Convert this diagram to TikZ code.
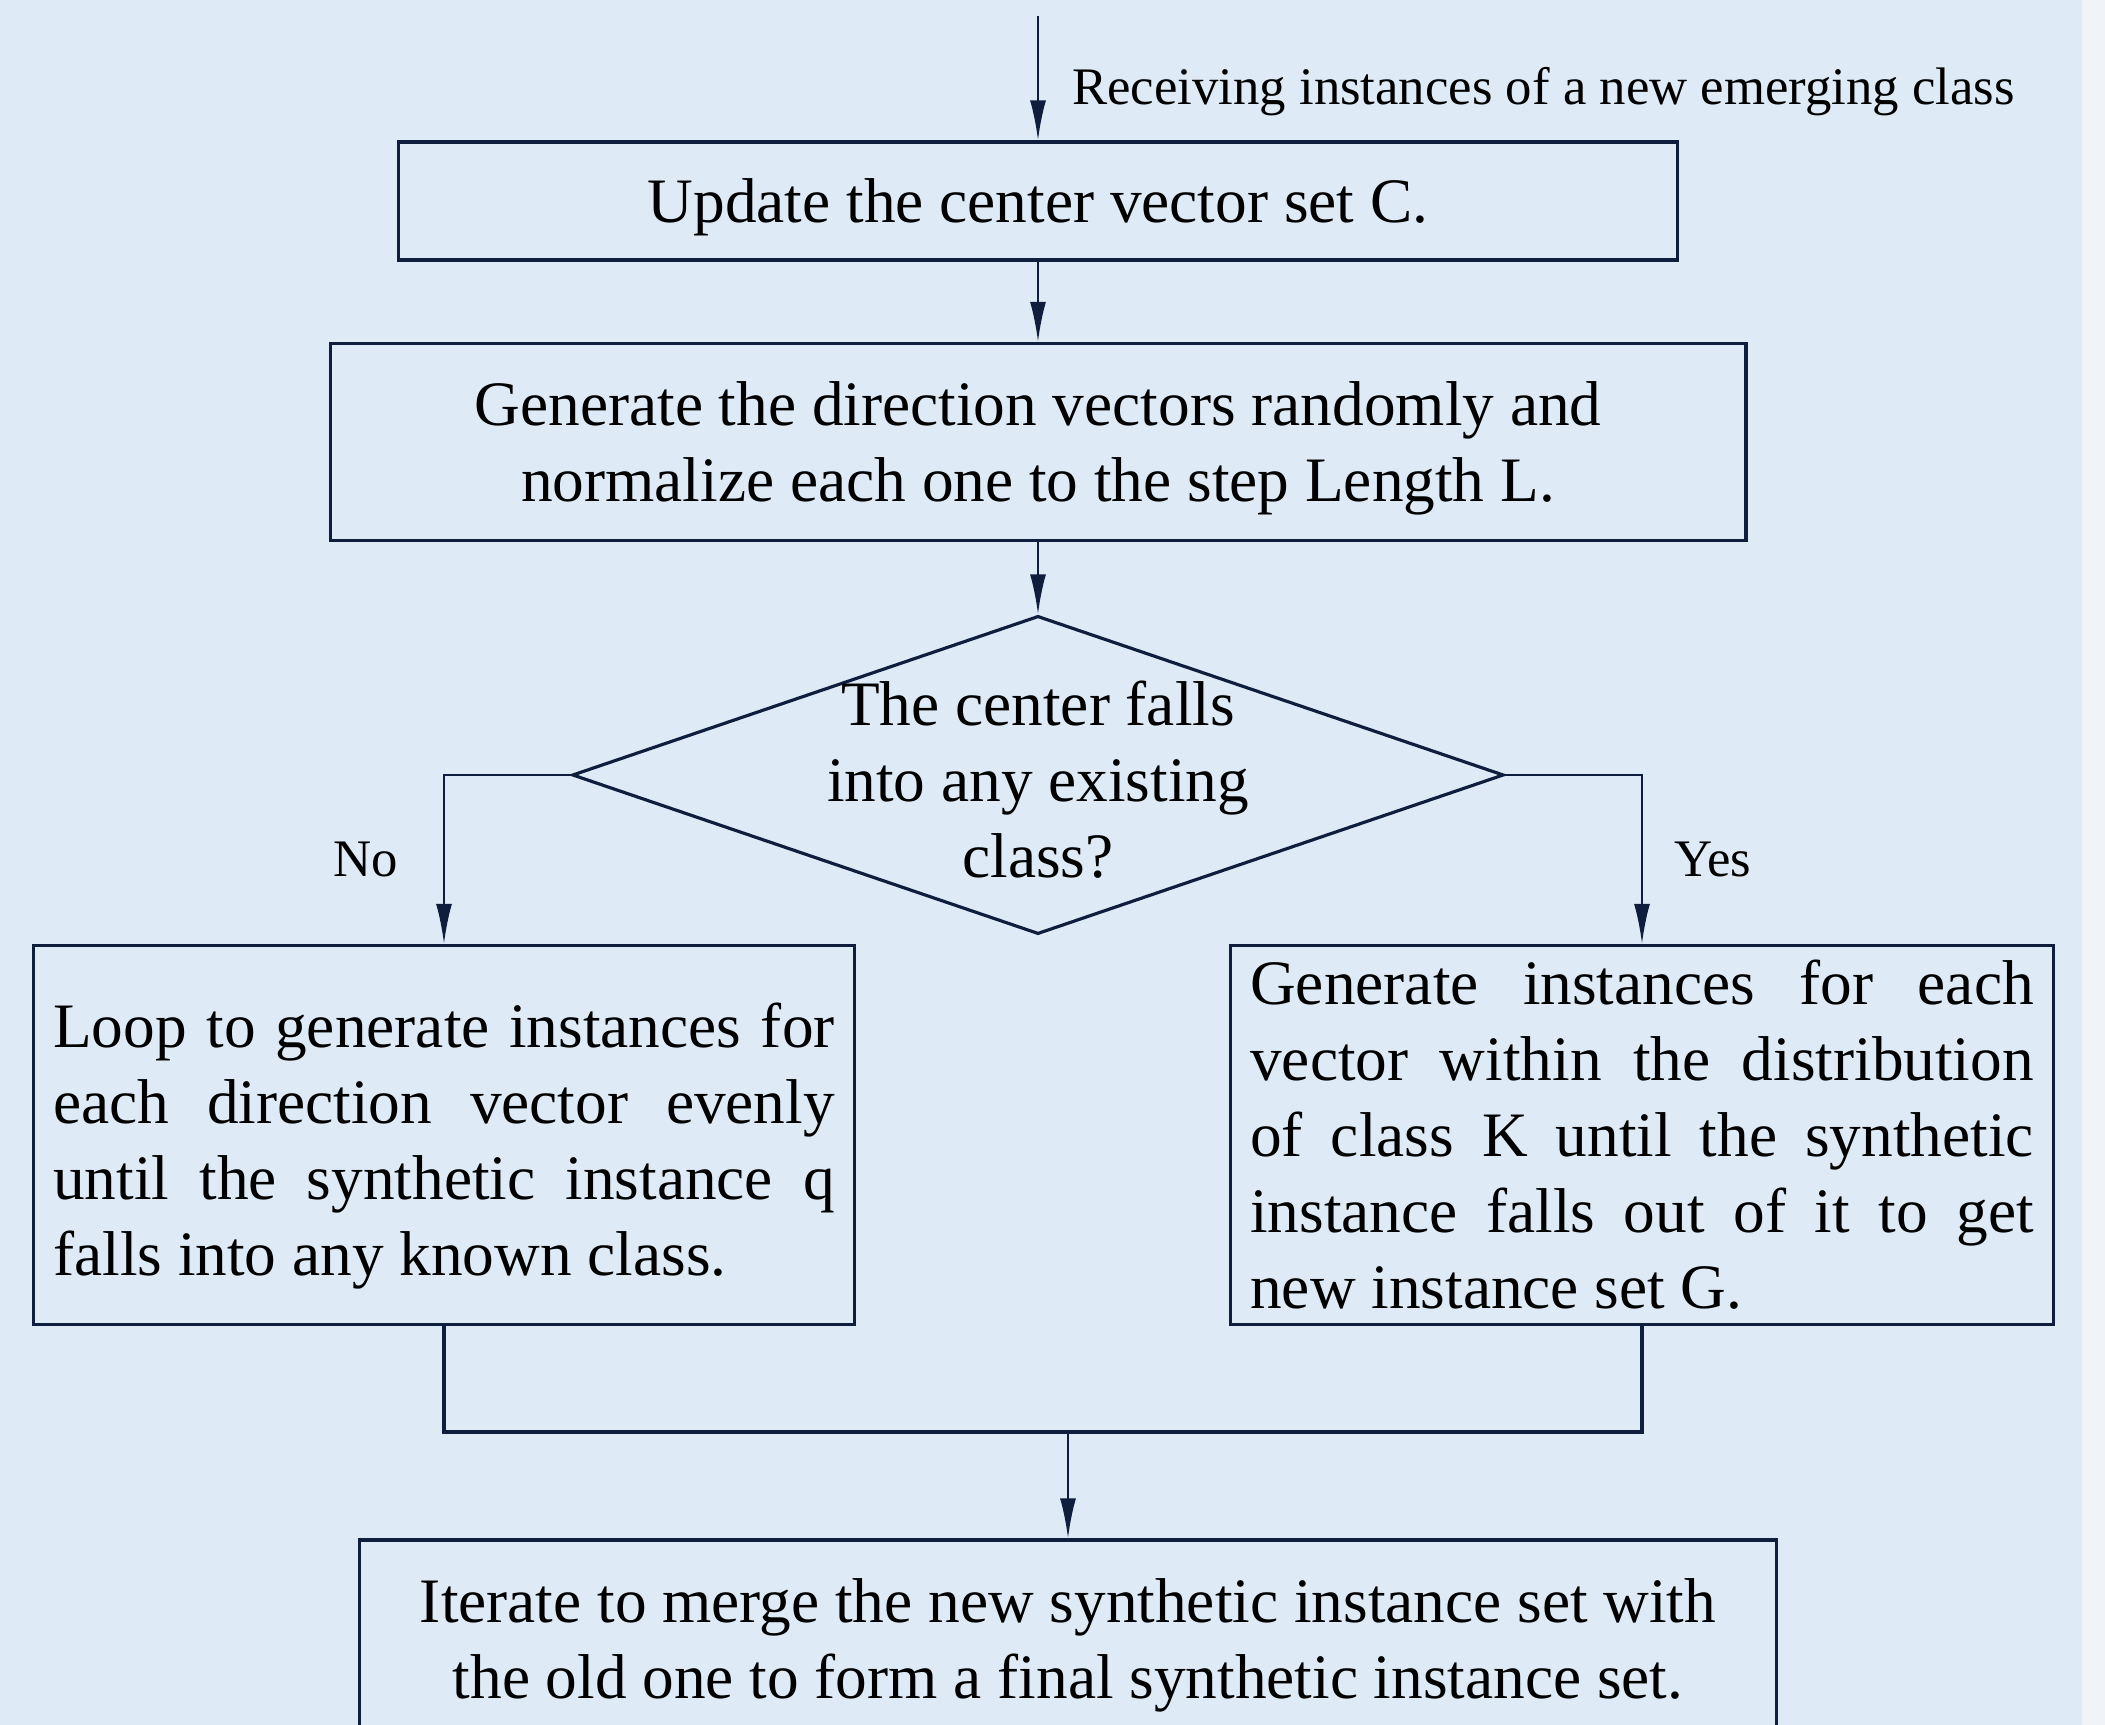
\documentclass[tikz,border=0pt]{standalone}
\usepackage{fontspec}
\setmainfont{Liberation Serif}
\usetikzlibrary{arrows.meta, positioning, shapes.geometric}
\definecolor{panelblue}{HTML}{DEEAF5}
\definecolor{paneledge}{HTML}{F0F4F9}
\definecolor{inkblue}{HTML}{0F1E3C}
\hyphenpenalty=10000
\exhyphenpenalty=10000

\begin{document}
\begin{tikzpicture}[
    x=0.01cm, y=-0.01cm,
    box/.style={draw=inkblue, line width=0.9pt, inner sep=0pt, align=center, font=\fontsize{18}{21.6}\selectfont},
    para/.style={box, text width=7.81cm, inner xsep=0.2cm, minimum height=3.79cm, align=justify},
    dia/.style={draw=inkblue, line width=0.9pt, diamond, aspect=2.93, inner sep=0pt, minimum width=9.31cm, minimum height=3.18cm},
    arr/.style={-{Latex[length=4mm, width=1.6mm]}, draw=inkblue, line width=0.7pt},
    link/.style={draw=inkblue, line width=0.9pt},
    lbl/.style={font=\fontsize{15}{18}\selectfont, inner sep=0pt},
]
\useasboundingbox (0,0) rectangle (2105,1725);
\fill[paneledge] (0,0) rectangle (2105,1725);
\fill[panelblue] (0,0) rectangle (2082,1725);
\clip (0,0) rectangle (2105,1725);

\coordinate (src) at (1038,16);
\node[box, text depth=0pt, minimum width=12.79cm, minimum height=1.18cm] (upd) at (1038,201) {Update the center vector set C.};
\node[box, text depth=0pt, minimum width=14.15cm, minimum height=1.97cm] (dirs) at (1038,442) {Generate the direction vectors randomly and\\normalize each one to the step Length L.};
\node[dia] (fall) at (1038,775) {};
\node[font=\fontsize{18}{21.6}\selectfont, align=center, inner sep=0pt] (fallq) at (1038,780) {The center falls\\into any existing\\class?};
\node[para] (loop) at (444,1135) {\rule{0pt}{19pt}Loop to generate instances for\linebreak each direction vector evenly\linebreak until the synthetic instance q\linebreak falls into any known class.};
\node[para, text width=7.83cm] (inside) at (1642,1135) {Generate instances for each\linebreak vector within the distribution\linebreak of class K until the synthetic\linebreak instance falls out of it to get\linebreak new instance set G.};
\coordinate (join) at (1068,1432);
\node[box, minimum width=14.16cm, minimum height=2.1cm] (merge) at (1068,1645) {Iterate to merge the new synthetic instance set with\\the old one to form a final synthetic instance set.};

\draw[arr] (src) -- node[lbl, pos=0.61, right=0.33cm] {Receiving instances of a new emerging class} (upd);
\draw[arr] (upd) -- (dirs);
\draw[arr] (dirs) -- (fall);
\draw[arr] (fall.west) -| node[lbl, pos=0.75, left=0.45cm] {No} (loop.north);
\draw[arr] (fall.east) -| node[lbl, pos=0.75, right=0.31cm] {Yes} (inside.north);
\draw[link] (loop.south) |- (join) -| (inside.south);
\draw[arr] (join) -- (merge);
\end{tikzpicture}
\end{document}
